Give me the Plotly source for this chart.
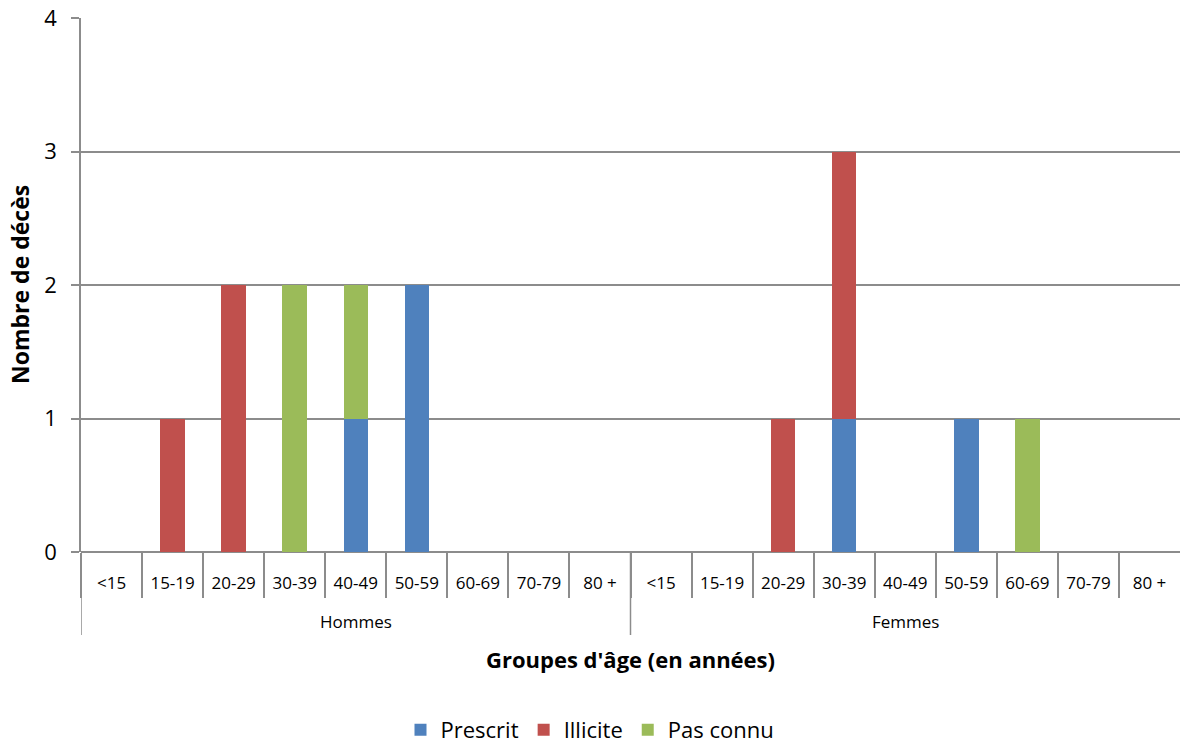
import plotly.graph_objects as go

# Age groups and sexes for the two-level category axis
age_groups = ["<15", "15-19", "20-29", "30-39", "40-49", "50-59", "60-69", "70-79", "80 +"]
sexes = ["Hommes", "Femmes"]

# Deaths per age group, men then women
prescrit_h = [0, 0, 0, 0, 1, 2, 0, 0, 0]
illicite_h = [0, 1, 2, 0, 0, 0, 0, 0, 0]
pas_connu_h = [0, 0, 0, 2, 1, 0, 0, 0, 0]

prescrit_f = [0, 0, 0, 1, 0, 1, 0, 0, 0]
illicite_f = [0, 0, 1, 2, 0, 0, 0, 0, 0]
pas_connu_f = [0, 0, 0, 0, 0, 0, 1, 0, 0]

y_ticks = [0, 1, 2, 3, 4]

n_age = len(age_groups)
n_cat = n_age * len(sexes)
x_pos = list(range(n_cat))
tick_text = age_groups * len(sexes)

series = [
    ("Prescrit", prescrit_h + prescrit_f, "#4F81BD"),
    ("Illicite", illicite_h + illicite_f, "#C0504D"),
    ("Pas connu", pas_connu_h + pas_connu_f, "#9BBB59"),
]

FONT = "Open Sans"
GRID = "#8C8C8C"
W, H = 1180, 745
M_L, M_T, M_B = 81, 18, 193
PLOT_H = H - M_T - M_B  # plot area height in px


def py(px_below):
    """Paper y for a distance in px below the x axis."""
    return -px_below / PLOT_H


fig = go.Figure()
for name, vals, color in series:
    fig.add_trace(go.Bar(x=x_pos, y=vals, name=name,
                         marker=dict(color=color, line=dict(width=0))))

# Short separators between age labels, long ones between the sex groups
# (the right-hand plot edge sits on the page edge, so it gets none)
boundaries = [i - 0.5 for i in range(n_cat)]
group_edges = [g * n_age - 0.5 for g in range(len(sexes))]

for xe in group_edges:
    fig.add_shape(type="line", xref="x", yref="paper", x0=xe, x1=xe,
                  y0=0, y1=py(83), line=dict(color=GRID, width=1.5))

# Sex group labels under the age labels
for g, s in enumerate(sexes):
    fig.add_annotation(x=g * n_age + (n_age - 1) / 2, y=py(69), xref="x", yref="paper",
                       text=s, showarrow=False, yanchor="middle",
                       font=dict(size=17, family=FONT, color="#000"))

fig.add_annotation(x=0.5, y=py(107), xref="paper", yref="paper",
                   text="<b>Groupes d'âge (en années)</b>", showarrow=False,
                   yanchor="middle", font=dict(size=22, family=FONT, color="#000"))
fig.add_annotation(x=-61 / (W - M_L), y=0.5, xref="paper", yref="paper",
                   text="<b>Nombre de décès</b>", showarrow=False, textangle=-90,
                   xanchor="center", yanchor="middle",
                   font=dict(size=23, family=FONT, color="#000"))

fig.update_layout(
    barmode="stack",
    bargap=0.6,
    width=W,
    height=H,
    margin=dict(l=M_L, r=0, t=M_T, b=M_B, autoexpand=False),
    plot_bgcolor="white",
    paper_bgcolor="white",
    font=dict(family=FONT, size=17, color="#000000"),
    showlegend=True,
    legend=dict(
        orientation="h",
        x=0.5, xanchor="center", xref="container",
        y=15 / H, yanchor="middle", yref="container",
        font=dict(size=22),
        traceorder="normal",
    ),
    xaxis=dict(
        range=[-0.5, n_cat - 0.5],
        tickvals=x_pos,
        ticktext=tick_text,
        ticks="",
        ticklabelstandoff=19,
        tickfont=dict(size=17),
        showgrid=False,
        zeroline=False,
        showline=False,
        minor=dict(tickvals=boundaries, ticks="outside", ticklen=45,
                   tickcolor=GRID, tickwidth=1.5, showgrid=False),
    ),
    yaxis=dict(
        range=[0, 4],
        tickvals=y_ticks,
        showgrid=True,
        gridcolor=GRID,
        gridwidth=1.5,
        zeroline=True,
        zerolinecolor=GRID,
        zerolinewidth=1.5,
        showline=True,
        linecolor=GRID,
        linewidth=1.5,
        ticks="outside",
        ticklen=8,
        tickwidth=1.5,
        tickcolor=GRID,
        ticklabelstandoff=10,
        tickfont=dict(size=22),
    ),
)

fig.write_html("out.html")
